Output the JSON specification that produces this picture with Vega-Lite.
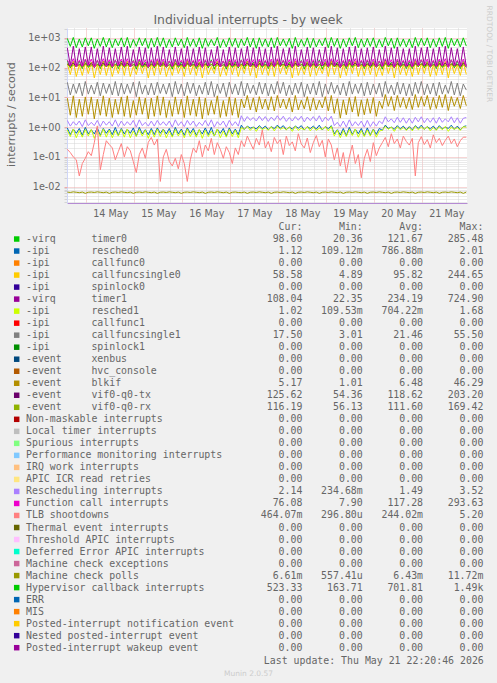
{
"$schema": "https://vega.github.io/schema/vega-lite/v6.json",
"width": 400, "height": 175,
"autosize": {"type": "none"},
"padding": {"left": 67, "top": 28, "right": 30, "bottom": 480},
"background": "#f0f0f0",
"view": {"fill": "#ffffff", "stroke": null},
"title": {"text": "Individual interrupts - by week", "font": "DejaVu Sans", "fontSize": 12.4, "fontWeight": "normal", "color": "#666666", "anchor": "middle", "frame": "group", "dx": -19, "offset": -31, "baseline": "alphabetic"},
"datasets": {
"ts": [
{"t":1778682600000,"t0":172,"r0":0.94,"c0":135,"t1":460,"r1":0.8,"c1":32,"bk":9.4,"tx":132,"rx":128,"rs":1.68,"fc":182,"tl":0.18,"mc":0.0066,"hv":950},
{"t":1778688000000,"t0":96,"r0":0.56,"c0":58,"t1":117,"r1":0.48,"c1":12,"bk":2.5,"tx":113,"rx":102,"rs":1.08,"fc":114,"tl":0.14,"mc":0.0064,"hv":510},
{"t":1778693400000,"t0":158,"r0":0.86,"c0":160,"t1":520,"r1":0.86,"c1":28,"bk":11.2,"tx":140,"rx":120,"rs":1.52,"fc":197,"tl":0.1,"mc":0.0067,"hv":1020},
{"t":1778698800000,"t0":104,"r0":0.62,"c0":50,"t1":107,"r1":0.44,"c1":13.5,"bk":2.1,"tx":107,"rx":108,"rs":1.16,"fc":106,"tl":0.08,"mc":0.0065,"hv":465},
{"t":1778704200000,"t0":165,"r0":0.9,"c0":122,"t1":430,"r1":0.77,"c1":30,"bk":8.6,"tx":128,"rx":124,"rs":1.6,"fc":175,"tl":0.023,"mc":0.0063,"hv":910},
{"t":1778709600000,"t0":92,"r0":0.53,"c0":54,"t1":112,"r1":0.46,"c1":11.2,"bk":2.3,"tx":110,"rx":99,"rs":1.04,"fc":110,"tl":0.06,"mc":0.0066,"hv":490},
{"t":1778715000000,"t0":180,"r0":0.98,"c0":148,"t1":490,"r1":0.83,"c1":34,"bk":10.3,"tx":136,"rx":132,"rs":1.76,"fc":190,"tl":0.09,"mc":0.006,"hv":990},
{"t":1778720400000,"t0":100,"r0":0.59,"c0":62,"t1":122,"r1":0.5,"c1":12.8,"bk":2.7,"tx":116,"rx":105,"rs":1.12,"fc":118,"tl":0.15,"mc":0.0065,"hv":535},
{"t":1778725800000,"t0":150,"r0":0.82,"c0":148,"t1":490,"r1":0.83,"c1":26,"bk":10.3,"tx":136,"rx":116,"rs":1.45,"fc":190,"tl":0.11,"mc":0.0066,"hv":990},
{"t":1778731200000,"t0":100,"r0":0.59,"c0":45,"t1":102,"r1":0.42,"c1":12.8,"bk":1.9,"tx":104,"rx":105,"rs":1.12,"fc":102,"tl":0.3,"mc":0.0064,"hv":440},
{"t":1778736600000,"t0":172,"r0":0.94,"c0":122,"t1":430,"r1":0.77,"c1":32,"bk":8.6,"tx":128,"rx":128,"rs":1.68,"fc":175,"tl":1.1,"mc":0.0067,"hv":910},
{"t":1778742000000,"t0":92,"r0":0.53,"c0":58,"t1":117,"r1":0.48,"c1":11.2,"bk":2.5,"tx":113,"rx":99,"rs":1.04,"fc":114,"tl":0.037,"mc":0.0065,"hv":510},
{"t":1778747400000,"t0":165,"r0":0.9,"c0":160,"t1":520,"r1":0.86,"c1":30,"bk":11.2,"tx":140,"rx":124,"rs":1.6,"fc":197,"tl":0.12,"mc":0.0063,"hv":1020},
{"t":1778752800000,"t0":104,"r0":0.62,"c0":54,"t1":112,"r1":0.46,"c1":13.5,"bk":2.3,"tx":110,"rx":108,"rs":1.16,"fc":110,"tl":0.35,"mc":0.0066,"hv":490},
{"t":1778758200000,"t0":158,"r0":0.86,"c0":135,"t1":460,"r1":0.8,"c1":28,"bk":9.4,"tx":132,"rx":120,"rs":1.52,"fc":182,"tl":0.26,"mc":0.006,"hv":950},
{"t":1778763600000,"t0":96,"r0":0.56,"c0":50,"t1":107,"r1":0.44,"c1":12,"bk":2.1,"tx":107,"rx":102,"rs":1.08,"fc":106,"tl":0.2,"mc":0.0065,"hv":465},
{"t":1778769000000,"t0":180,"r0":0.98,"c0":122,"t1":430,"r1":0.77,"c1":34,"bk":8.6,"tx":128,"rx":132,"rs":1.76,"fc":175,"tl":0.08,"mc":0.0066,"hv":910},
{"t":1778774400000,"t0":92,"r0":0.53,"c0":62,"t1":122,"r1":0.5,"c1":11.2,"bk":2.7,"tx":116,"rx":99,"rs":1.04,"fc":118,"tl":0.15,"mc":0.0064,"hv":535},
{"t":1778779800000,"t0":165,"r0":0.9,"c0":148,"t1":490,"r1":0.83,"c1":30,"bk":10.3,"tx":136,"rx":124,"rs":1.6,"fc":190,"tl":0.28,"mc":0.0067,"hv":990},
{"t":1778785200000,"t0":100,"r0":0.59,"c0":54,"t1":112,"r1":0.46,"c1":12.8,"bk":2.3,"tx":110,"rx":105,"rs":1.12,"fc":110,"tl":0.1,"mc":0.0065,"hv":490},
{"t":1778790600000,"t0":158,"r0":0.86,"c0":160,"t1":520,"r1":0.86,"c1":28,"bk":11.2,"tx":140,"rx":120,"rs":1.52,"fc":197,"tl":0.22,"mc":0.0063,"hv":1020},
{"t":1778796000000,"t0":104,"r0":0.62,"c0":50,"t1":107,"r1":0.44,"c1":13.5,"bk":2.1,"tx":107,"rx":108,"rs":1.16,"fc":106,"tl":0.16,"mc":0.0066,"hv":465},
{"t":1778801400000,"t0":172,"r0":0.94,"c0":110,"t1":400,"r1":0.74,"c1":32,"bk":7.8,"tx":124,"rx":128,"rs":1.68,"fc":168,"tl":0.07,"mc":0.006,"hv":880},
{"t":1778806800000,"t0":88,"r0":0.5,"c0":58,"t1":117,"r1":0.48,"c1":10.5,"bk":2.5,"tx":113,"rx":96,"rs":1.0,"fc":114,"tl":0.03,"mc":0.0065,"hv":510},
{"t":1778812200000,"t0":180,"r0":0.98,"c0":148,"t1":490,"r1":0.83,"c1":34,"bk":10.3,"tx":136,"rx":132,"rs":1.76,"fc":190,"tl":0.12,"mc":0.0066,"hv":990},
{"t":1778817600000,"t0":100,"r0":0.59,"c0":62,"t1":122,"r1":0.5,"c1":12.8,"bk":2.7,"tx":116,"rx":105,"rs":1.12,"fc":118,"tl":0.2,"mc":0.0064,"hv":535},
{"t":1778823000000,"t0":150,"r0":0.82,"c0":135,"t1":460,"r1":0.8,"c1":26,"bk":9.4,"tx":132,"rx":116,"rs":1.45,"fc":182,"tl":0.09,"mc":0.0067,"hv":950},
{"t":1778828400000,"t0":96,"r0":0.56,"c0":45,"t1":102,"r1":0.42,"c1":12,"bk":1.9,"tx":104,"rx":102,"rs":1.08,"fc":102,"tl":0.31,"mc":0.0065,"hv":440},
{"t":1778833800000,"t0":165,"r0":0.9,"c0":135,"t1":460,"r1":0.8,"c1":30,"bk":9.4,"tx":132,"rx":124,"rs":1.6,"fc":182,"tl":0.45,"mc":0.0063,"hv":950},
{"t":1778839200000,"t0":96,"r0":0.56,"c0":54,"t1":112,"r1":0.46,"c1":12,"bk":2.3,"tx":110,"rx":102,"rs":1.08,"fc":110,"tl":0.25,"mc":0.0066,"hv":490},
{"t":1778844600000,"t0":172,"r0":0.94,"c0":160,"t1":520,"r1":0.86,"c1":32,"bk":11.2,"tx":140,"rx":128,"rs":1.68,"fc":197,"tl":0.4,"mc":0.006,"hv":1020},
{"t":1778850000000,"t0":104,"r0":0.62,"c0":58,"t1":117,"r1":0.48,"c1":13.5,"bk":2.5,"tx":113,"rx":108,"rs":1.16,"fc":114,"tl":0.015,"mc":0.0065,"hv":510},
{"t":1778855400000,"t0":158,"r0":0.86,"c0":148,"t1":490,"r1":0.83,"c1":28,"bk":10.3,"tx":136,"rx":120,"rs":1.52,"fc":190,"tl":0.1,"mc":0.0066,"hv":990},
{"t":1778860800000,"t0":100,"r0":0.59,"c0":50,"t1":107,"r1":0.44,"c1":12.8,"bk":2.1,"tx":107,"rx":105,"rs":1.12,"fc":106,"tl":0.18,"mc":0.0064,"hv":465},
{"t":1778866200000,"t0":165,"r0":0.9,"c0":110,"t1":400,"r1":0.74,"c1":30,"bk":7.8,"tx":124,"rx":124,"rs":1.6,"fc":168,"tl":0.07,"mc":0.0067,"hv":880},
{"t":1778871600000,"t0":88,"r0":0.5,"c0":54,"t1":112,"r1":0.46,"c1":10.5,"bk":2.3,"tx":110,"rx":96,"rs":1.0,"fc":110,"tl":0.05,"mc":0.0065,"hv":490},
{"t":1778877000000,"t0":180,"r0":0.98,"c0":148,"t1":490,"r1":0.83,"c1":34,"bk":10.3,"tx":136,"rx":132,"rs":1.76,"fc":190,"tl":0.09,"mc":0.0063,"hv":990},
{"t":1778882400000,"t0":100,"r0":0.59,"c0":62,"t1":122,"r1":0.5,"c1":12.8,"bk":2.7,"tx":116,"rx":105,"rs":1.12,"fc":118,"tl":0.04,"mc":0.0066,"hv":535},
{"t":1778887800000,"t0":158,"r0":0.86,"c0":122,"t1":430,"r1":0.77,"c1":28,"bk":8.6,"tx":128,"rx":120,"rs":1.52,"fc":175,"tl":0.12,"mc":0.006,"hv":910},
{"t":1778893200000,"t0":92,"r0":0.53,"c0":50,"t1":107,"r1":0.44,"c1":11.2,"bk":2.1,"tx":107,"rx":99,"rs":1.04,"fc":106,"tl":0.06,"mc":0.0065,"hv":465},
{"t":1778898600000,"t0":172,"r0":0.94,"c0":160,"t1":520,"r1":0.86,"c1":32,"bk":11.2,"tx":140,"rx":128,"rs":1.68,"fc":197,"tl":0.015,"mc":0.0066,"hv":1020},
{"t":1778904000000,"t0":104,"r0":0.62,"c0":58,"t1":117,"r1":0.48,"c1":13.5,"bk":2.5,"tx":113,"rx":108,"rs":1.16,"fc":114,"tl":0.08,"mc":0.0064,"hv":510},
{"t":1778909400000,"t0":165,"r0":0.9,"c0":122,"t1":430,"r1":0.77,"c1":30,"bk":8.6,"tx":128,"rx":124,"rs":1.6,"fc":175,"tl":0.2,"mc":0.0067,"hv":910},
{"t":1778914800000,"t0":92,"r0":0.53,"c0":54,"t1":112,"r1":0.46,"c1":11.2,"bk":2.3,"tx":110,"rx":99,"rs":1.04,"fc":110,"tl":0.14,"mc":0.0065,"hv":490},
{"t":1778920200000,"t0":150,"r0":0.82,"c0":148,"t1":490,"r1":0.83,"c1":26,"bk":10.3,"tx":136,"rx":116,"rs":1.45,"fc":190,"tl":0.35,"mc":0.0063,"hv":990},
{"t":1778925600000,"t0":100,"r0":0.59,"c0":45,"t1":102,"r1":0.42,"c1":12.8,"bk":1.9,"tx":104,"rx":105,"rs":1.12,"fc":102,"tl":0.1,"mc":0.0066,"hv":440},
{"t":1778931000000,"t0":172,"r0":0.94,"c0":135,"t1":460,"r1":0.8,"c1":32,"bk":9.4,"tx":132,"rx":128,"rs":1.68,"fc":182,"tl":0.25,"mc":0.006,"hv":950},
{"t":1778936400000,"t0":96,"r0":0.56,"c0":58,"t1":117,"r1":0.48,"c1":12,"bk":2.5,"tx":113,"rx":102,"rs":1.08,"fc":114,"tl":0.16,"mc":0.0065,"hv":510},
{"t":1778941800000,"t0":180,"r0":0.98,"c0":110,"t1":400,"r1":0.74,"c1":34,"bk":7.8,"tx":124,"rx":132,"rs":1.76,"fc":168,"tl":0.42,"mc":0.0066,"hv":880},
{"t":1778947200000,"t0":88,"r0":0.5,"c0":62,"t1":122,"r1":0.5,"c1":10.5,"bk":2.7,"tx":116,"rx":96,"rs":1.0,"fc":118,"tl":0.12,"mc":0.0064,"hv":535},
{"t":1778952600000,"t0":158,"r0":0.86,"c0":160,"t1":520,"r1":0.86,"c1":28,"bk":11.2,"tx":140,"rx":120,"rs":1.52,"fc":197,"tl":0.3,"mc":0.0067,"hv":1020},
{"t":1778958000000,"t0":104,"r0":0.62,"c0":50,"t1":107,"r1":0.44,"c1":13.5,"bk":2.1,"tx":107,"rx":108,"rs":1.16,"fc":106,"tl":0.18,"mc":0.0065,"hv":465},
{"t":1778963400000,"t0":165,"r0":0.9,"c0":110,"t1":400,"r1":0.74,"c1":30,"bk":7.8,"tx":124,"rx":124,"rs":1.6,"fc":168,"tl":0.09,"mc":0.0063,"hv":880},
{"t":1778968800000,"t0":88,"r0":0.5,"c0":54,"t1":112,"r1":0.46,"c1":10.5,"bk":2.3,"tx":110,"rx":96,"rs":1.0,"fc":110,"tl":0.22,"mc":0.0066,"hv":490},
{"t":1778974200000,"t0":172,"r0":0.94,"c0":148,"t1":490,"r1":0.83,"c1":32,"bk":10.3,"tx":136,"rx":128,"rs":1.68,"fc":190,"tl":0.14,"mc":0.006,"hv":990},
{"t":1778979600000,"t0":100,"r0":0.59,"c0":58,"t1":117,"r1":0.48,"c1":12.8,"bk":2.5,"tx":113,"rx":105,"rs":1.12,"fc":114,"tl":0.06,"mc":0.0065,"hv":510},
{"t":1778985000000,"t0":158,"r0":0.86,"c0":135,"t1":460,"r1":0.8,"c1":28,"bk":9.4,"tx":132,"rx":120,"rs":1.52,"fc":182,"tl":0.2,"mc":0.0066,"hv":950},
{"t":1778990400000,"t0":96,"r0":0.56,"c0":50,"t1":107,"r1":0.44,"c1":12,"bk":2.1,"tx":107,"rx":102,"rs":1.08,"fc":106,"tl":0.12,"mc":0.0064,"hv":465},
{"t":1778995800000,"t0":180,"r0":1.16,"c0":122,"t1":430,"r1":0.96,"c1":34,"bk":8.8,"tx":128,"rx":132,"rs":2.4,"fc":175,"tl":0.35,"mc":0.0063,"hv":910},
{"t":1779001200000,"t0":92,"r0":0.83,"c0":62,"t1":122,"r1":0.84,"c1":11.2,"bk":4.4,"tx":116,"rx":99,"rs":1.55,"fc":118,"tl":0.22,"mc":0.0066,"hv":535},
{"t":1779006600000,"t0":165,"r0":1.08,"c0":160,"t1":520,"r1":1.06,"c1":30,"bk":11.5,"tx":140,"rx":124,"rs":2.25,"fc":197,"tl":0.5,"mc":0.006,"hv":1020},
{"t":1779012000000,"t0":104,"r0":0.92,"c0":54,"t1":112,"r1":0.78,"c1":13.5,"bk":3.8,"tx":110,"rx":108,"rs":1.7,"fc":110,"tl":0.3,"mc":0.0065,"hv":490},
{"t":1779017400000,"t0":150,"r0":1.0,"c0":135,"t1":460,"r1":1.0,"c1":26,"bk":9.6,"tx":132,"rx":116,"rs":2.1,"fc":182,"tl":0.18,"mc":0.0066,"hv":950},
{"t":1779022800000,"t0":96,"r0":0.86,"c0":45,"t1":102,"r1":0.72,"c1":12,"bk":3.2,"tx":104,"rx":102,"rs":1.6,"fc":102,"tl":0.42,"mc":0.0064,"hv":440},
{"t":1779028200000,"t0":172,"r0":1.12,"c0":148,"t1":490,"r1":1.03,"c1":32,"bk":10.5,"tx":136,"rx":128,"rs":2.32,"fc":190,"tl":0.25,"mc":0.0067,"hv":990},
{"t":1779033600000,"t0":100,"r0":0.89,"c0":58,"t1":117,"r1":0.81,"c1":12.8,"bk":4.1,"tx":113,"rx":105,"rs":1.65,"fc":114,"tl":0.8,"mc":0.0065,"hv":510},
{"t":1779039000000,"t0":165,"r0":1.08,"c0":122,"t1":430,"r1":0.96,"c1":30,"bk":8.8,"tx":128,"rx":124,"rs":2.25,"fc":175,"tl":0.2,"mc":0.0063,"hv":910},
{"t":1779044400000,"t0":92,"r0":0.83,"c0":54,"t1":112,"r1":0.78,"c1":11.2,"bk":3.8,"tx":110,"rx":99,"rs":1.55,"fc":110,"tl":0.33,"mc":0.0066,"hv":490},
{"t":1779049800000,"t0":158,"r0":1.04,"c0":148,"t1":490,"r1":1.03,"c1":28,"bk":10.5,"tx":136,"rx":120,"rs":2.17,"fc":190,"tl":0.15,"mc":0.006,"hv":990},
{"t":1779055200000,"t0":100,"r0":0.89,"c0":50,"t1":107,"r1":0.75,"c1":12.8,"bk":3.5,"tx":107,"rx":105,"rs":1.65,"fc":106,"tl":0.45,"mc":0.0065,"hv":465},
{"t":1779060600000,"t0":180,"r0":1.16,"c0":160,"t1":520,"r1":1.06,"c1":34,"bk":11.5,"tx":140,"rx":132,"rs":2.4,"fc":197,"tl":0.28,"mc":0.0066,"hv":1020},
{"t":1779066000000,"t0":104,"r0":0.92,"c0":62,"t1":122,"r1":0.84,"c1":13.5,"bk":4.4,"tx":116,"rx":108,"rs":1.7,"fc":118,"tl":0.38,"mc":0.0064,"hv":535},
{"t":1779071400000,"t0":172,"r0":1.12,"c0":122,"t1":430,"r1":0.96,"c1":32,"bk":8.8,"tx":128,"rx":128,"rs":2.32,"fc":175,"tl":0.12,"mc":0.0067,"hv":910},
{"t":1779076800000,"t0":92,"r0":0.83,"c0":58,"t1":117,"r1":0.81,"c1":11.2,"bk":4.1,"tx":113,"rx":99,"rs":1.55,"fc":114,"tl":0.5,"mc":0.0065,"hv":510},
{"t":1779082200000,"t0":150,"r0":1.0,"c0":135,"t1":460,"r1":1.0,"c1":26,"bk":9.6,"tx":132,"rx":116,"rs":2.1,"fc":182,"tl":0.24,"mc":0.0063,"hv":950},
{"t":1779087600000,"t0":96,"r0":0.86,"c0":45,"t1":102,"r1":0.72,"c1":12,"bk":3.2,"tx":104,"rx":102,"rs":1.6,"fc":102,"tl":0.32,"mc":0.0066,"hv":440},
{"t":1779093000000,"t0":165,"r0":1.08,"c0":160,"t1":520,"r1":1.06,"c1":30,"bk":11.5,"tx":140,"rx":124,"rs":2.25,"fc":197,"tl":0.16,"mc":0.006,"hv":1020},
{"t":1779098400000,"t0":104,"r0":0.92,"c0":54,"t1":112,"r1":0.78,"c1":13.5,"bk":3.8,"tx":110,"rx":108,"rs":1.7,"fc":110,"tl":0.6,"mc":0.0065,"hv":490},
{"t":1779103800000,"t0":172,"r0":1.12,"c0":110,"t1":400,"r1":0.92,"c1":32,"bk":8.0,"tx":124,"rx":128,"rs":2.32,"fc":168,"tl":0.27,"mc":0.0066,"hv":880},
{"t":1779109200000,"t0":88,"r0":0.8,"c0":58,"t1":117,"r1":0.81,"c1":10.5,"bk":4.1,"tx":113,"rx":96,"rs":1.5,"fc":114,"tl":0.2,"mc":0.0064,"hv":510},
{"t":1779114600000,"t0":158,"r0":1.04,"c0":148,"t1":490,"r1":1.03,"c1":28,"bk":10.5,"tx":136,"rx":120,"rs":2.17,"fc":190,"tl":0.43,"mc":0.0067,"hv":990},
{"t":1779120000000,"t0":100,"r0":0.89,"c0":50,"t1":107,"r1":0.75,"c1":12.8,"bk":3.5,"tx":107,"rx":105,"rs":1.65,"fc":106,"tl":0.14,"mc":0.0065,"hv":465},
{"t":1779125400000,"t0":165,"r0":1.08,"c0":135,"t1":460,"r1":1.0,"c1":30,"bk":9.6,"tx":132,"rx":124,"rs":2.25,"fc":182,"tl":0.3,"mc":0.0063,"hv":950},
{"t":1779130800000,"t0":96,"r0":0.86,"c0":54,"t1":112,"r1":0.78,"c1":12,"bk":3.8,"tx":110,"rx":102,"rs":1.6,"fc":110,"tl":0.52,"mc":0.0066,"hv":490},
{"t":1779136200000,"t0":180,"r0":1.16,"c0":110,"t1":400,"r1":0.92,"c1":34,"bk":8.0,"tx":124,"rx":132,"rs":2.4,"fc":168,"tl":0.22,"mc":0.006,"hv":880},
{"t":1779141600000,"t0":88,"r0":0.8,"c0":62,"t1":122,"r1":0.84,"c1":10.5,"bk":4.4,"tx":116,"rx":96,"rs":1.5,"fc":118,"tl":0.36,"mc":0.0065,"hv":535},
{"t":1779147000000,"t0":158,"r0":1.04,"c0":148,"t1":490,"r1":1.03,"c1":28,"bk":10.5,"tx":136,"rx":120,"rs":2.17,"fc":190,"tl":0.1,"mc":0.0066,"hv":990},
{"t":1779152400000,"t0":100,"r0":0.89,"c0":50,"t1":107,"r1":0.75,"c1":12.8,"bk":3.5,"tx":107,"rx":105,"rs":1.65,"fc":106,"tl":0.4,"mc":0.0064,"hv":465},
{"t":1779157800000,"t0":172,"r0":1.12,"c0":160,"t1":520,"r1":1.06,"c1":32,"bk":11.5,"tx":140,"rx":128,"rs":2.32,"fc":197,"tl":0.25,"mc":0.0067,"hv":1020},
{"t":1779163200000,"t0":104,"r0":0.6,"c0":58,"t1":117,"r1":0.5,"c1":13.5,"bk":2.9,"tx":113,"rx":108,"rs":1.12,"fc":114,"tl":0.08,"mc":0.0065,"hv":510},
{"t":1779168600000,"t0":150,"r0":0.82,"c0":135,"t1":460,"r1":0.8,"c1":26,"bk":9.0,"tx":132,"rx":116,"rs":1.45,"fc":182,"tl":0.2,"mc":0.0063,"hv":950},
{"t":1779174000000,"t0":96,"r0":0.54,"c0":45,"t1":102,"r1":0.44,"c1":12,"bk":2.0,"tx":104,"rx":102,"rs":1.04,"fc":102,"tl":0.05,"mc":0.0066,"hv":440},
{"t":1779179400000,"t0":165,"r0":0.9,"c0":122,"t1":430,"r1":0.77,"c1":30,"bk":8.2,"tx":128,"rx":124,"rs":1.6,"fc":175,"tl":0.14,"mc":0.006,"hv":910},
{"t":1779184800000,"t0":92,"r0":0.51,"c0":54,"t1":112,"r1":0.48,"c1":11.2,"bk":2.6,"tx":110,"rx":99,"rs":1.0,"fc":110,"tl":0.03,"mc":0.0065,"hv":490},
{"t":1779190200000,"t0":180,"r0":0.98,"c0":148,"t1":490,"r1":0.83,"c1":34,"bk":9.8,"tx":136,"rx":132,"rs":1.76,"fc":190,"tl":0.1,"mc":0.0066,"hv":990},
{"t":1779195600000,"t0":100,"r0":0.57,"c0":62,"t1":122,"r1":0.52,"c1":12.8,"bk":3.2,"tx":116,"rx":105,"rs":1.08,"fc":118,"tl":0.25,"mc":0.0064,"hv":535},
{"t":1779201000000,"t0":158,"r0":0.86,"c0":160,"t1":520,"r1":0.86,"c1":28,"bk":10.6,"tx":140,"rx":120,"rs":1.52,"fc":197,"tl":0.06,"mc":0.0067,"hv":1020},
{"t":1779206400000,"t0":104,"r0":0.6,"c0":50,"t1":107,"r1":0.46,"c1":13.5,"bk":2.3,"tx":107,"rx":108,"rs":1.12,"fc":106,"tl":0.12,"mc":0.0065,"hv":465},
{"t":1779211800000,"t0":165,"r0":0.9,"c0":122,"t1":430,"r1":0.77,"c1":30,"bk":8.2,"tx":128,"rx":124,"rs":1.6,"fc":175,"tl":0.02,"mc":0.0063,"hv":910},
{"t":1779217200000,"t0":92,"r0":0.51,"c0":54,"t1":112,"r1":0.48,"c1":11.2,"bk":2.6,"tx":110,"rx":99,"rs":1.0,"fc":110,"tl":0.09,"mc":0.0066,"hv":490},
{"t":1779222600000,"t0":172,"r0":0.94,"c0":135,"t1":460,"r1":0.8,"c1":32,"bk":9.0,"tx":132,"rx":128,"rs":1.68,"fc":182,"tl":0.18,"mc":0.006,"hv":950},
{"t":1779228000000,"t0":96,"r0":0.54,"c0":58,"t1":117,"r1":0.5,"c1":12,"bk":2.9,"tx":113,"rx":102,"rs":1.04,"fc":114,"tl":0.07,"mc":0.0065,"hv":510},
{"t":1779233400000,"t0":158,"r0":0.86,"c0":148,"t1":490,"r1":0.83,"c1":28,"bk":9.8,"tx":136,"rx":120,"rs":1.52,"fc":190,"tl":0.3,"mc":0.0066,"hv":990},
{"t":1779238800000,"t0":100,"r0":0.57,"c0":50,"t1":107,"r1":0.46,"c1":12.8,"bk":2.3,"tx":107,"rx":105,"rs":1.08,"fc":106,"tl":0.11,"mc":0.0064,"hv":465},
{"t":1779244200000,"t0":165,"r0":0.9,"c0":110,"t1":400,"r1":0.74,"c1":30,"bk":7.5,"tx":124,"rx":124,"rs":1.6,"fc":168,"tl":0.2,"mc":0.0067,"hv":880},
{"t":1779249600000,"t0":88,"r0":0.78,"c0":54,"t1":112,"r1":0.78,"c1":10.5,"bk":4.2,"tx":110,"rx":96,"rs":1.3,"fc":110,"tl":0.3,"mc":0.0065,"hv":490},
{"t":1779255000000,"t0":180,"r0":1.16,"c0":160,"t1":520,"r1":1.06,"c1":34,"bk":12.4,"tx":140,"rx":132,"rs":2.22,"fc":197,"tl":0.45,"mc":0.0063,"hv":1020},
{"t":1779260400000,"t0":104,"r0":0.9,"c0":62,"t1":122,"r1":0.84,"c1":13.5,"bk":5.0,"tx":116,"rx":108,"rs":1.5,"fc":118,"tl":0.22,"mc":0.0066,"hv":535},
{"t":1779265800000,"t0":150,"r0":1.0,"c0":135,"t1":460,"r1":1.0,"c1":26,"bk":10.6,"tx":132,"rx":116,"rs":1.9,"fc":182,"tl":0.6,"mc":0.006,"hv":950},
{"t":1779271200000,"t0":96,"r0":0.84,"c0":45,"t1":102,"r1":0.72,"c1":12,"bk":3.6,"tx":104,"rx":102,"rs":1.4,"fc":102,"tl":0.28,"mc":0.0065,"hv":440},
{"t":1779276600000,"t0":172,"r0":1.12,"c0":148,"t1":490,"r1":1.03,"c1":32,"bk":11.5,"tx":136,"rx":128,"rs":2.14,"fc":190,"tl":0.4,"mc":0.0066,"hv":990},
{"t":1779282000000,"t0":100,"r0":0.87,"c0":58,"t1":117,"r1":0.81,"c1":12.8,"bk":4.6,"tx":113,"rx":105,"rs":1.45,"fc":114,"tl":0.2,"mc":0.0064,"hv":510},
{"t":1779287400000,"t0":165,"r0":1.08,"c0":122,"t1":430,"r1":0.96,"c1":30,"bk":9.8,"tx":128,"rx":124,"rs":2.06,"fc":175,"tl":0.5,"mc":0.0067,"hv":910},
{"t":1779292800000,"t0":92,"r0":0.81,"c0":54,"t1":112,"r1":0.78,"c1":11.2,"bk":4.2,"tx":110,"rx":99,"rs":1.35,"fc":110,"tl":0.33,"mc":0.0065,"hv":490},
{"t":1779298200000,"t0":158,"r0":1.04,"c0":122,"t1":430,"r1":0.96,"c1":28,"bk":9.8,"tx":128,"rx":120,"rs":1.98,"fc":175,"tl":0.25,"mc":0.0063,"hv":910},
{"t":1779303600000,"t0":92,"r0":0.81,"c0":50,"t1":107,"r1":0.75,"c1":11.2,"bk":3.9,"tx":107,"rx":99,"rs":1.35,"fc":106,"tl":0.42,"mc":0.0066,"hv":465},
{"t":1779309000000,"t0":172,"r0":1.12,"c0":160,"t1":520,"r1":1.06,"c1":32,"bk":12.4,"tx":140,"rx":128,"rs":2.14,"fc":197,"tl":0.023,"mc":0.006,"hv":1020},
{"t":1779314400000,"t0":104,"r0":0.9,"c0":58,"t1":117,"r1":0.81,"c1":13.5,"bk":4.6,"tx":113,"rx":108,"rs":1.5,"fc":114,"tl":0.3,"mc":0.0065,"hv":510},
{"t":1779319800000,"t0":180,"r0":1.16,"c0":135,"t1":460,"r1":1.0,"c1":34,"bk":10.6,"tx":132,"rx":132,"rs":2.22,"fc":182,"tl":0.48,"mc":0.0066,"hv":950},
{"t":1779325200000,"t0":96,"r0":0.84,"c0":62,"t1":122,"r1":0.84,"c1":12,"bk":5.0,"tx":116,"rx":102,"rs":1.4,"fc":118,"tl":0.26,"mc":0.0064,"hv":535},
{"t":1779330600000,"t0":158,"r0":1.04,"c0":148,"t1":490,"r1":1.03,"c1":28,"bk":11.5,"tx":136,"rx":120,"rs":1.98,"fc":190,"tl":0.38,"mc":0.0067,"hv":990},
{"t":1779336000000,"t0":100,"r0":0.87,"c0":50,"t1":107,"r1":0.75,"c1":12.8,"bk":3.9,"tx":107,"rx":105,"rs":1.45,"fc":106,"tl":0.2,"mc":0.0065,"hv":465},
{"t":1779341400000,"t0":165,"r0":1.08,"c0":122,"t1":430,"r1":0.96,"c1":30,"bk":9.8,"tx":128,"rx":124,"rs":2.06,"fc":175,"tl":0.55,"mc":0.0063,"hv":910},
{"t":1779346800000,"t0":92,"r0":0.81,"c0":54,"t1":112,"r1":0.78,"c1":11.2,"bk":4.2,"tx":110,"rx":99,"rs":1.35,"fc":110,"tl":0.3,"mc":0.0066,"hv":490},
{"t":1779352200000,"t0":172,"r0":1.12,"c0":148,"t1":490,"r1":1.03,"c1":32,"bk":11.5,"tx":136,"rx":128,"rs":2.14,"fc":190,"tl":0.42,"mc":0.006,"hv":990},
{"t":1779357600000,"t0":100,"r0":0.87,"c0":58,"t1":117,"r1":0.81,"c1":12.8,"bk":4.6,"tx":113,"rx":105,"rs":1.45,"fc":114,"tl":0.24,"mc":0.0065,"hv":510},
{"t":1779363000000,"t0":150,"r0":1.0,"c0":160,"t1":520,"r1":1.06,"c1":26,"bk":12.4,"tx":140,"rx":116,"rs":1.9,"fc":197,"tl":0.36,"mc":0.0066,"hv":1020},
{"t":1779368400000,"t0":104,"r0":0.9,"c0":45,"t1":102,"r1":0.72,"c1":13.5,"bk":3.6,"tx":104,"rx":108,"rs":1.5,"fc":102,"tl":0.5,"mc":0.0064,"hv":440},
{"t":1779373800000,"t0":180,"r0":1.16,"c0":135,"t1":460,"r1":1.0,"c1":34,"bk":10.6,"tx":132,"rx":132,"rs":2.22,"fc":182,"tl":0.28,"mc":0.0067,"hv":950},
{"t":1779379200000,"t0":96,"r0":0.84,"c0":62,"t1":122,"r1":0.84,"c1":12,"bk":5.0,"tx":116,"rx":102,"rs":1.4,"fc":118,"tl":0.4,"mc":0.0065,"hv":535},
{"t":1779384600000,"t0":165,"r0":1.08,"c0":122,"t1":430,"r1":0.96,"c1":30,"bk":9.8,"tx":128,"rx":124,"rs":2.06,"fc":175,"tl":0.22,"mc":0.0063,"hv":910},
{"t":1779390000000,"t0":92,"r0":0.81,"c0":54,"t1":112,"r1":0.78,"c1":11.2,"bk":4.2,"tx":110,"rx":99,"rs":1.35,"fc":110,"tl":0.35,"mc":0.0066,"hv":490},
{"t":1779395400000,"t0":158,"r0":1.04,"c0":148,"t1":490,"r1":1.03,"c1":28,"bk":11.5,"tx":136,"rx":120,"rs":1.98,"fc":190,"tl":0.46,"mc":0.006,"hv":990},
{"t":1779400800000,"t0":98.6,"r0":1.1,"c0":58.6,"t1":108,"r1":1.0,"c1":17.5,"bk":5.2,"tx":125,"rx":116,"rs":2.1,"fc":105,"tl":0.46,"mc":0.0066,"hv":523}
],
"legend": [
{"row":0,"series":"t0","label":"-virq\u00a0\u00a0\u00a0\u00a0\u00a0\u00a0timer0","cur":"98.60\u00a0","min":"20.36\u00a0","avg":"121.67\u00a0","max":"285.48\u00a0"},
{"row":1,"series":"r0","label":"-ipi\u00a0\u00a0\u00a0\u00a0\u00a0\u00a0\u00a0resched0","cur":"1.12\u00a0","min":"109.12m","avg":"786.88m","max":"2.01\u00a0"},
{"row":2,"series":"cf0","label":"-ipi\u00a0\u00a0\u00a0\u00a0\u00a0\u00a0\u00a0callfunc0","cur":"0.00\u00a0","min":"0.00\u00a0","avg":"0.00\u00a0","max":"0.00\u00a0"},
{"row":3,"series":"c0","label":"-ipi\u00a0\u00a0\u00a0\u00a0\u00a0\u00a0\u00a0callfuncsingle0","cur":"58.58\u00a0","min":"4.89\u00a0","avg":"95.82\u00a0","max":"244.65\u00a0"},
{"row":4,"series":"sp0","label":"-ipi\u00a0\u00a0\u00a0\u00a0\u00a0\u00a0\u00a0spinlock0","cur":"0.00\u00a0","min":"0.00\u00a0","avg":"0.00\u00a0","max":"0.00\u00a0"},
{"row":5,"series":"t1","label":"-virq\u00a0\u00a0\u00a0\u00a0\u00a0\u00a0timer1","cur":"108.04\u00a0","min":"22.35\u00a0","avg":"234.19\u00a0","max":"724.90\u00a0"},
{"row":6,"series":"r1","label":"-ipi\u00a0\u00a0\u00a0\u00a0\u00a0\u00a0\u00a0resched1","cur":"1.02\u00a0","min":"109.53m","avg":"704.22m","max":"1.68\u00a0"},
{"row":7,"series":"cf1","label":"-ipi\u00a0\u00a0\u00a0\u00a0\u00a0\u00a0\u00a0callfunc1","cur":"0.00\u00a0","min":"0.00\u00a0","avg":"0.00\u00a0","max":"0.00\u00a0"},
{"row":8,"series":"c1","label":"-ipi\u00a0\u00a0\u00a0\u00a0\u00a0\u00a0\u00a0callfuncsingle1","cur":"17.50\u00a0","min":"3.01\u00a0","avg":"21.46\u00a0","max":"55.50\u00a0"},
{"row":9,"series":"sp1","label":"-ipi\u00a0\u00a0\u00a0\u00a0\u00a0\u00a0\u00a0spinlock1","cur":"0.00\u00a0","min":"0.00\u00a0","avg":"0.00\u00a0","max":"0.00\u00a0"},
{"row":10,"series":"xb","label":"-event\u00a0\u00a0\u00a0\u00a0\u00a0xenbus","cur":"0.00\u00a0","min":"0.00\u00a0","avg":"0.00\u00a0","max":"0.00\u00a0"},
{"row":11,"series":"hvc","label":"-event\u00a0\u00a0\u00a0\u00a0\u00a0hvc_console","cur":"0.00\u00a0","min":"0.00\u00a0","avg":"0.00\u00a0","max":"0.00\u00a0"},
{"row":12,"series":"bk","label":"-event\u00a0\u00a0\u00a0\u00a0\u00a0blkif","cur":"5.17\u00a0","min":"1.01\u00a0","avg":"6.48\u00a0","max":"46.29\u00a0"},
{"row":13,"series":"tx","label":"-event\u00a0\u00a0\u00a0\u00a0\u00a0vif0-q0-tx","cur":"125.62\u00a0","min":"54.36\u00a0","avg":"118.62\u00a0","max":"203.20\u00a0"},
{"row":14,"series":"rx","label":"-event\u00a0\u00a0\u00a0\u00a0\u00a0vif0-q0-rx","cur":"116.19\u00a0","min":"56.13\u00a0","avg":"111.60\u00a0","max":"169.42\u00a0"},
{"row":15,"series":"nmi","label":"Non-maskable interrupts","cur":"0.00\u00a0","min":"0.00\u00a0","avg":"0.00\u00a0","max":"0.00\u00a0"},
{"row":16,"series":"loc","label":"Local timer interrupts","cur":"0.00\u00a0","min":"0.00\u00a0","avg":"0.00\u00a0","max":"0.00\u00a0"},
{"row":17,"series":"spu","label":"Spurious interrupts","cur":"0.00\u00a0","min":"0.00\u00a0","avg":"0.00\u00a0","max":"0.00\u00a0"},
{"row":18,"series":"pmi","label":"Performance monitoring interrupts","cur":"0.00\u00a0","min":"0.00\u00a0","avg":"0.00\u00a0","max":"0.00\u00a0"},
{"row":19,"series":"iwi","label":"IRQ work interrupts","cur":"0.00\u00a0","min":"0.00\u00a0","avg":"0.00\u00a0","max":"0.00\u00a0"},
{"row":20,"series":"rtr","label":"APIC ICR read retries","cur":"0.00\u00a0","min":"0.00\u00a0","avg":"0.00\u00a0","max":"0.00\u00a0"},
{"row":21,"series":"rs","label":"Rescheduling interrupts","cur":"2.14\u00a0","min":"234.68m","avg":"1.49\u00a0","max":"3.52\u00a0"},
{"row":22,"series":"fc","label":"Function call interrupts","cur":"76.08\u00a0","min":"7.90\u00a0","avg":"117.28\u00a0","max":"293.63\u00a0"},
{"row":23,"series":"tl","label":"TLB shootdowns","cur":"464.07m","min":"296.80u","avg":"244.02m","max":"5.20\u00a0"},
{"row":24,"series":"trm","label":"Thermal event interrupts","cur":"0.00\u00a0","min":"0.00\u00a0","avg":"0.00\u00a0","max":"0.00\u00a0"},
{"row":25,"series":"thr","label":"Threshold APIC interrupts","cur":"0.00\u00a0","min":"0.00\u00a0","avg":"0.00\u00a0","max":"0.00\u00a0"},
{"row":26,"series":"dfr","label":"Deferred Error APIC interrupts","cur":"0.00\u00a0","min":"0.00\u00a0","avg":"0.00\u00a0","max":"0.00\u00a0"},
{"row":27,"series":"mce","label":"Machine check exceptions","cur":"0.00\u00a0","min":"0.00\u00a0","avg":"0.00\u00a0","max":"0.00\u00a0"},
{"row":28,"series":"mc","label":"Machine check polls","cur":"6.61m","min":"557.41u","avg":"6.43m","max":"11.72m"},
{"row":29,"series":"hv","label":"Hypervisor callback interrupts","cur":"523.33\u00a0","min":"163.71\u00a0","avg":"701.81\u00a0","max":"1.49k"},
{"row":30,"series":"err","label":"ERR","cur":"0.00\u00a0","min":"0.00\u00a0","avg":"0.00\u00a0","max":"0.00\u00a0"},
{"row":31,"series":"mis","label":"MIS","cur":"0.00\u00a0","min":"0.00\u00a0","avg":"0.00\u00a0","max":"0.00\u00a0"},
{"row":32,"series":"pin","label":"Posted-interrupt notification event","cur":"0.00\u00a0","min":"0.00\u00a0","avg":"0.00\u00a0","max":"0.00\u00a0"},
{"row":33,"series":"npi","label":"Nested posted-interrupt event","cur":"0.00\u00a0","min":"0.00\u00a0","avg":"0.00\u00a0","max":"0.00\u00a0"},
{"row":34,"series":"pw","label":"Posted-interrupt wakeup event","cur":"0.00\u00a0","min":"0.00\u00a0","avg":"0.00\u00a0","max":"0.00\u00a0"}
],
"head": [
{"stat":"cur","txt":"Cur:\u00a0\u00a0","row":-1},
{"stat":"min","txt":"Min:\u00a0\u00a0","row":-1},
{"stat":"avg","txt":"Avg:\u00a0\u00a0","row":-1},
{"stat":"max","txt":"Max:\u00a0\u00a0","row":-1}
]
},
"layer": [
{
"data": {"name": "ts"},
"transform": [{"fold": ["t0","r0","c0","t1","r1","c1","bk","tx","rx","rs","fc","tl","mc"], "as": ["series","v"]}],
"mark": {"type": "line", "strokeWidth": 1, "clip": true},
"encoding": {
"x": {"field": "t", "type": "temporal", "scale": {"type": "utc", "domain": [1778682046000, 1779402046000]},
 "axis": {"values": [1778695200000,1778738400000,1778760000000,1778781600000,1778824800000,1778846400000,1778868000000,1778911200000,1778932800000,1778954400000,1778997600000,1779019200000,1779040800000,1779084000000,1779105600000,1779127200000,1779170400000,1779192000000,1779213600000,1779256800000,1779278400000,1779300000000,1779343200000,1779364800000,1779386400000],
  "labels": false, "ticks": false, "grid": true, "gridColor": "#d4d4d4", "gridDash": [1,1], "gridWidth": 1, "domainColor": "#b58bd3", "title": null}},
"y": {"field": "v", "type": "quantitative", "scale": {"type": "log", "domain": [0.00284, 2117]},
 "axis": {"values": [0.003,0.004,0.005,0.006,0.007,0.008,0.009,0.02,0.03,0.04,0.05,0.06,0.07,0.08,0.09,0.2,0.3,0.4,0.5,0.6,0.7,0.8,0.9,2,3,4,5,6,7,8,9,20,30,40,50,60,70,80,90,200,300,400,500,600,700,800,900,2000],
  "labels": false, "tickSize": 3, "tickColor": "#d4d4d4", "grid": true, "gridColor": "#d4d4d4", "gridDash": [1,1], "gridWidth": 1, "domainColor": "#cfd6f8",
  "title": "interrupts / second", "titleFont": "DejaVu Sans", "titleFontSize": 11.1, "titleFontWeight": "normal", "titleColor": "#666666", "titleX": -56, "titleY": 86, "titleAngle": 270, "titleAlign": "center", "titleBaseline": "middle"}},
"color": {"field": "series", "type": "nominal", "legend": null,
 "scale": {"domain": ["t0","r0","cf0","c0","sp0","t1","r1","cf1","c1","sp1","xb","hvc","bk","tx","rx","nmi","loc","spu","pmi","iwi","rtr","rs","fc","tl","trm","thr","dfr","mce","mc","hv","err","mis","pin","npi","pw"],
  "range": ["#00cc00","#0066b3","#ff8000","#ffcc00","#330099","#990099","#ccff00","#ff0000","#808080","#008f00","#00487d","#b35a00","#b38f00","#6b006b","#8fb300","#b30000","#bebebe","#80ff80","#80c9ff","#ffc080","#ffe680","#aa80ff","#ee00cc","#ff8080","#666600","#ffbfff","#00ffcc","#cc6699","#999900","#00cc00","#0066b3","#ff8000","#ffcc00","#330099","#990099"]}}
}
},
{
"data": {"name": "ts"},
"transform": [{"fold": ["hv"], "as": ["series","v"]}],
"mark": {"type": "line", "strokeWidth": 1, "clip": true},
"encoding": {
"x": {"field": "t", "type": "temporal", "scale": {"type": "utc", "domain": [1778682046000, 1779402046000]},
 "axis": {"orient": "bottom", "values": [1778716800000,1778803200000,1778889600000,1778976000000,1779062400000,1779148800000,1779235200000,1779321600000],
  "format": "%d %b", "labelOffset": 24, "labelFont": "DejaVu Sans", "labelFontSize": 9.6, "labelColor": "#666666", "labelPadding": 13.5, "labelBaseline": "alphabetic", "labelOverlap": false, "labelFlush": false, "labelAngle": 0,
  "ticks": false, "domain": false, "grid": true, "gridColor": "#eeaaaa", "gridDash": [1,1], "gridWidth": 1, "title": null}},
"y": {"field": "v", "type": "quantitative", "scale": {"type": "log", "domain": [0.00284, 2117]},
 "axis": {"orient": "left", "values": [0.01,0.1,1,10,100,1000],
  "labelExpr": "datum.value >= 999 ? '1e+03' : datum.value >= 99 ? '1e+02' : datum.value >= 9.9 ? '1e+01' : datum.value >= 0.99 ? '1e+00' : datum.value >= 0.099 ? '1e-01' : '1e-02'",
  "labelFont": "DejaVu Sans", "labelFontSize": 9.6, "labelColor": "#666666", "labelPadding": 4, "labelOverlap": false, "labelFlush": false, "labelBaseline": "middle",
  "tickSize": 3, "tickColor": "#eeaaaa", "domain": false, "grid": true, "gridColor": "#eeaaaa", "gridDash": [1,1], "gridWidth": 1, "title": null}},
"color": {"field": "series", "type": "nominal", "legend": null,
 "scale": {"domain": ["t0","r0","cf0","c0","sp0","t1","r1","cf1","c1","sp1","xb","hvc","bk","tx","rx","nmi","loc","spu","pmi","iwi","rtr","rs","fc","tl","trm","thr","dfr","mce","mc","hv","err","mis","pin","npi","pw"],
  "range": ["#00cc00","#0066b3","#ff8000","#ffcc00","#330099","#990099","#ccff00","#ff0000","#808080","#008f00","#00487d","#b35a00","#b38f00","#6b006b","#8fb300","#b30000","#bebebe","#80ff80","#80c9ff","#ffc080","#ffe680","#aa80ff","#ee00cc","#ff8080","#666600","#ffbfff","#00ffcc","#cc6699","#999900","#00cc00","#0066b3","#ff8000","#ffcc00","#330099","#990099"]}}
}
},
{
"data": {"name": "legend"},
"mark": {"type": "square", "size": 30, "filled": true, "opacity": 1, "strokeWidth": 0},
"encoding": {
"x": {"field": "series", "type": "nominal", "scale": {"type": "point", "range": [-50.3, -50.3]}, "axis": null},
"y": {"field": "row", "type": "ordinal", "scale": {"type": "point", "domain": [-1,0,1,2,3,4,5,6,7,8,9,10,11,12,13,14,15,16,17,18,19,20,21,22,23,24,25,26,27,28,29,30,31,32,33,34], "range": [199, 619.7], "padding": 0}, "axis": null},
"color": {"field": "series", "type": "nominal", "legend": null,
 "scale": {"domain": ["t0","r0","cf0","c0","sp0","t1","r1","cf1","c1","sp1","xb","hvc","bk","tx","rx","nmi","loc","spu","pmi","iwi","rtr","rs","fc","tl","trm","thr","dfr","mce","mc","hv","err","mis","pin","npi","pw"],
  "range": ["#00cc00","#0066b3","#ff8000","#ffcc00","#330099","#990099","#ccff00","#ff0000","#808080","#008f00","#00487d","#b35a00","#b38f00","#6b006b","#8fb300","#b30000","#bebebe","#80ff80","#80c9ff","#ffc080","#ffe680","#aa80ff","#ee00cc","#ff8080","#666600","#ffbfff","#00ffcc","#cc6699","#999900","#00cc00","#0066b3","#ff8000","#ffcc00","#330099","#990099"]}}
}
},
{
"data": {"name": "legend"},
"mark": {"type": "text", "align": "left", "baseline": "middle", "font": "DejaVu Sans Mono", "fontSize": 9.9, "color": "#666666"},
"encoding": {
"x": {"field": "series", "type": "nominal", "scale": {"type": "point", "range": [-41, -41]}, "axis": null},
"y": {"field": "row", "type": "ordinal", "scale": {"type": "point", "domain": [-1,0,1,2,3,4,5,6,7,8,9,10,11,12,13,14,15,16,17,18,19,20,21,22,23,24,25,26,27,28,29,30,31,32,33,34], "range": [199, 619.7], "padding": 0}, "axis": null},
"text": {"field": "label"}
}
},
{
"data": {"name": "legend"},
"transform": [{"fold": ["cur","min","avg","max"], "as": ["stat","txt"]}],
"mark": {"type": "text", "align": "right", "baseline": "middle", "font": "DejaVu Sans Mono", "fontSize": 9.9, "color": "#666666"},
"encoding": {
"x": {"field": "stat", "type": "nominal", "scale": {"type": "point", "domain": ["cur","min","avg","max"], "range": [235.4, 416.4], "padding": 0},
 "axis": {"orient": "bottom", "domain": false, "ticks": false, "labels": false, "grid": false, "title": "Last update: Thu May 21 22:20:46 2026", "titleX": 416.3, "titleY": 460, "titleAlign": "right", "titleBaseline": "alphabetic", "titleFont": "DejaVu Sans Mono", "titleFontSize": 9.9, "titleFontWeight": "normal", "titleColor": "#666666"}},
"y": {"field": "row", "type": "ordinal", "scale": {"type": "point", "domain": [-1,0,1,2,3,4,5,6,7,8,9,10,11,12,13,14,15,16,17,18,19,20,21,22,23,24,25,26,27,28,29,30,31,32,33,34], "range": [199, 619.7], "padding": 0},
 "axis": {"orient": "right", "domain": false, "ticks": false, "labels": false, "grid": false, "title": "RRDTOOL / TOBI OETIKER", "titleX": 21, "titleY": 25.3, "titleAngle": 90, "titleAlign": "center", "titleBaseline": "middle", "titleFont": "DejaVu Sans", "titleFontSize": 7.5, "titleFontWeight": "normal", "titleColor": "#cccccc"}},
"text": {"field": "txt"}
}
},
{
"data": {"name": "head"},
"mark": {"type": "text", "align": "right", "baseline": "middle", "font": "DejaVu Sans Mono", "fontSize": 9.9, "color": "#666666"},
"encoding": {
"x": {"field": "stat", "type": "nominal", "scale": {"type": "point", "domain": ["cur","min","avg","max"], "range": [235.4, 416.4], "padding": 0},
 "axis": {"orient": "bottom", "domain": false, "ticks": false, "labels": false, "grid": false, "title": "Munin 2.0.57", "titleX": 181, "titleY": 472, "titleAlign": "center", "titleBaseline": "alphabetic", "titleFont": "DejaVu Sans", "titleFontSize": 7.5, "titleFontWeight": "normal", "titleColor": "#cccccc"}},
"y": {"field": "row", "type": "ordinal", "scale": {"type": "point", "domain": [-1,0,1,2,3,4,5,6,7,8,9,10,11,12,13,14,15,16,17,18,19,20,21,22,23,24,25,26,27,28,29,30,31,32,33,34], "range": [199, 619.7], "padding": 0}, "axis": null},
"text": {"field": "txt"}
}
}
],
"resolve": {"scale": {"x": "independent", "y": "independent", "color": "shared"}}
}
